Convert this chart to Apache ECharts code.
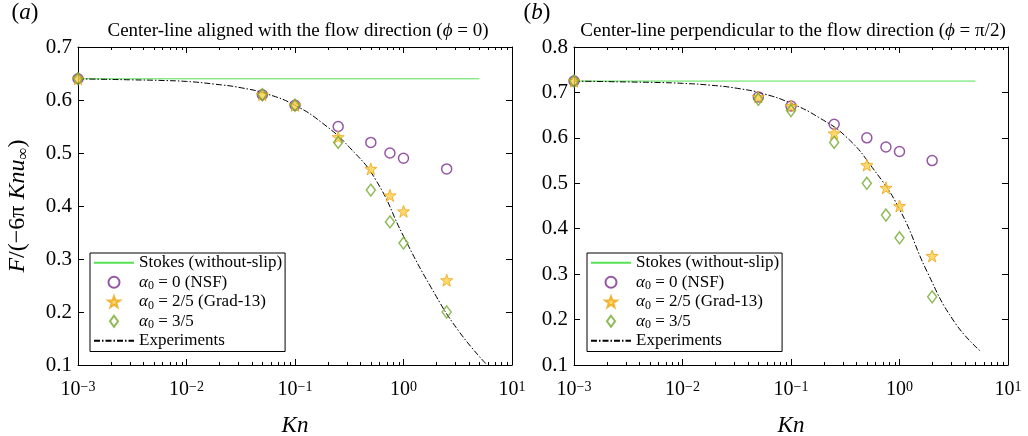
<!DOCTYPE html>
<html>
<head>
<meta charset="utf-8">
<script src="https://cdn.jsdelivr.net/npm/echarts@6/dist/echarts.min.js"></script>
<style>
html,body{margin:0;padding:0;background:#fff;}
#main{width:1028px;height:436px;}
</style>
</head>
<body>
<div id="main"></div>
<script>
// panel (a): phi = 0
var knLeft   = [0.001, 0.05, 0.1, 0.25, 0.5, 0.75, 1, 2.5];
var nsfLeft  = [0.64, 0.61, 0.59, 0.55, 0.52, 0.50, 0.49, 0.47];
var gradLeft = [0.64, 0.61, 0.59, 0.53, 0.47, 0.42, 0.39, 0.26];
var a35Left  = [0.64, 0.61, 0.59, 0.52, 0.43, 0.37, 0.33, 0.20];
var stokesLeft = [0.64, 0.64];
var expKnLeft = [0.001, 0.0018, 0.0032, 0.0056, 0.01, 0.018, 0.032, 0.056, 0.1, 0.18, 0.32, 0.56, 1, 1.8, 3.2, 5.9];
var expLeft   = [0.64, 0.639, 0.638, 0.637, 0.635, 0.63, 0.623, 0.611, 0.59, 0.556, 0.51, 0.448, 0.343, 0.246, 0.165, 0.1];

// panel (b): phi = pi/2
var knRight   = [0.001, 0.05, 0.1, 0.25, 0.5, 0.75, 1, 2];
var nsfRight  = [0.725, 0.69, 0.67, 0.63, 0.60, 0.58, 0.57, 0.55];
var gradRight = [0.725, 0.69, 0.67, 0.61, 0.54, 0.49, 0.45, 0.34];
var a35Right  = [0.725, 0.685, 0.66, 0.59, 0.50, 0.43, 0.38, 0.25];
var stokesRight = [0.725, 0.725];
var expKnRight = [0.001, 0.0018, 0.0032, 0.0056, 0.01, 0.018, 0.032, 0.056, 0.1, 0.18, 0.32, 0.56, 1, 1.8, 3.2, 5.6];
var expRight   = [0.725, 0.724, 0.723, 0.722, 0.72, 0.716, 0.709, 0.697, 0.676, 0.645, 0.603, 0.535, 0.443, 0.305, 0.195, 0.13];

var stokesKn = [0.001, 5];
var yRangeLeft = [0.1, 0.7];
var yRangeRight = [0.1, 0.8];
var minorKn = [0.002, 0.003, 0.004, 0.005, 0.006, 0.007, 0.008, 0.009,
               0.02, 0.03, 0.04, 0.05, 0.06, 0.07, 0.08, 0.09,
               0.2, 0.3, 0.4, 0.5, 0.6, 0.7, 0.8, 0.9,
               2, 3, 4, 5, 6, 7, 8, 9];

var names = ['Stokes (without-slip)', 'NSF', 'Grad13', 'a35', 'Experiments'];
var legendText = {
    'Stokes (without-slip)': '{t|Stokes (without-slip)}',
    'NSF': '{a|α}{s|0}{t| = 0 (NSF)}',
    'Grad13': '{a|α}{s|0}{t| = 2/5 (Grad-13)}',
    'a35': '{a|α}{s|0}{t| = 3/5}',
    'Experiments': '{t|Experiments}'
};

var serif = 'Liberation Serif';
var starPath = 'path://M0,-10L2.35,-3.24L9.51,-3.09L3.8,1.24L5.88,8.09L0,4L-5.88,8.09L-3.8,1.24L-9.51,-3.09L-2.35,-3.24Z';
var diamondPath = 'path://M0,-6L4.4,0L0,6L-4.4,0Z';

function pts(xs, ys) {
    return xs.map(function (x, i) { return [x, ys[i]]; });
}

function sci(v) {
    var e = Math.round(Math.log10(v));
    return '{b|10}{s|' + (e < 0 ? '\u2212' + (-e) : e) + '}';
}

var chart = echarts.init(document.getElementById('main'));

function xAxes(g) {
    var common = {
        type: 'log', logBase: 10, min: 0.001, max: 10, splitNumber: 4, gridIndex: g,
        axisLine: {show: true, onZero: false, lineStyle: {color: '#000', width: 1}},
        axisTick: {show: true, inside: true, length: 6, lineStyle: {color: '#000'}},
        splitLine: {show: false}
    };
    var bottom = echarts.util.merge({
        position: 'bottom',
        name: 'Kn', nameLocation: 'middle', nameGap: 49,
        nameTextStyle: {fontFamily: serif, fontSize: 23, fontStyle: 'italic', color: '#000'},
        axisLabel: {
            margin: 15, color: '#000', fontFamily: serif, formatter: sci,
            rich: {
                b: {fontFamily: serif, fontSize: 20, lineHeight: 20, padding: [3, 0, 0, 0], verticalAlign: 'bottom', color: '#000'},
                s: {fontFamily: serif, fontSize: 14, lineHeight: 14, verticalAlign: 'top', color: '#000'}
            }
        }
    }, common, true);
    var top = echarts.util.merge({position: 'top', axisLabel: {show: false}}, common, true);
    return [bottom, top];
}

function yAxes(g, r, withName) {
    var common = {
        type: 'value', min: r[0], max: r[1], interval: 0.1, gridIndex: g,
        axisLine: {show: true, onZero: false, lineStyle: {color: '#000', width: 1}},
        axisTick: {show: true, inside: true, length: 6, lineStyle: {color: '#000'}},
        splitLine: {show: false}
    };
    var left = echarts.util.merge({
        position: 'left',
        axisLabel: {
            margin: 6, color: '#000', fontFamily: serif, fontSize: 21,
            formatter: function (v) { return '{n|' + v.toFixed(1) + '}'; },
            rich: {n: {fontFamily: serif, fontSize: 21, color: '#000'}}
        }
    }, common, true);
    if (withName) {
        left.name = '{i|F}{r|/(\u22126\u03c0 }{i|Knu}{s|\u221e}{r|)}';
        left.nameLocation = 'middle';
        left.nameGap = 46;
        left.nameRotate = 90;
        left.nameTextStyle = {
            fontFamily: serif, fontSize: 24, color: '#000', lineHeight: 28,
            rich: {
                r: {fontFamily: serif, fontSize: 24, lineHeight: 28, color: '#000'},
                i: {fontFamily: serif, fontSize: 24, fontStyle: 'italic', lineHeight: 28, color: '#000'},
                s: {fontFamily: serif, fontSize: 17, lineHeight: 17, verticalAlign: 'bottom', color: '#000'}
            }
        };
    }
    var right = echarts.util.merge({position: 'right', axisLabel: {show: false}}, common, true);
    return [left, right];
}

function panelSeries(p, kn, nsf, grad, a35, stokes, expKn, exp, yr) {
    var xi = p * 2, yi = p * 2;
    return [
        {
            name: names[0], type: 'line', xAxisIndex: xi, yAxisIndex: yi,
            data: pts(stokesKn, stokes), symbol: 'none', silent: true,
            lineStyle: {color: '#55e055', width: 1}, itemStyle: {color: '#55e055', opacity: 0}, z: 2
        },
        {
            name: names[4], type: 'line', xAxisIndex: xi, yAxisIndex: yi,
            data: pts(expKn, exp), symbol: 'none', smooth: 0.5, silent: true,
            lineStyle: {color: '#000', width: 1, type: [6, 2, 1.5, 2]}, itemStyle: {color: '#000', opacity: 0}, z: 3
        },
        {
            name: names[1], type: 'scatter', xAxisIndex: xi, yAxisIndex: yi, clip: false,
            data: pts(kn, nsf), symbol: 'circle', symbolSize: 10,
            itemStyle: {color: 'rgba(255,255,255,0)', borderColor: '#7b2d8e', borderWidth: 1.5}, z: 4
        },
        {
            name: names[2], type: 'scatter', xAxisIndex: xi, yAxisIndex: yi, clip: false,
            data: pts(kn, grad), symbol: starPath, symbolSize: 12,
            itemStyle: {color: '#fbcf4a', borderColor: '#efa514', borderWidth: 1}, z: 5
        },
        {
            name: names[3], type: 'scatter', xAxisIndex: xi, yAxisIndex: yi, clip: false,
            data: pts(kn, a35), symbol: diamondPath, symbolSize: [9, 12],
            itemStyle: {color: 'rgba(255,255,255,0)', borderColor: '#72a92c', borderWidth: 1.5}, z: 6
        },
        {
            type: 'custom', xAxisIndex: xi, yAxisIndex: yi, silent: true, clip: false, z: 10,
            data: minorKn.map(function (v) { return [v, yr[0]]; }),
            renderItem: function (params, api) {
                var b = api.coord([api.value(0), yr[0]]);
                var t = api.coord([api.value(0), yr[1]]);
                var x = Math.round(b[0]) + 0.5;
                return {
                    type: 'group', children: [
                        {type: 'line', shape: {x1: x, y1: b[1], x2: x, y2: b[1] - 3}, style: {stroke: '#000', lineWidth: 1}},
                        {type: 'line', shape: {x1: x, y1: t[1], x2: x, y2: t[1] + 3}, style: {stroke: '#000', lineWidth: 1}}
                    ]
                };
            }
        }
    ];
}

function legendAt(x) {
    return {
        left: x, top: 253, orient: 'vertical', data: names,
        itemWidth: 40, itemHeight: 11, itemGap: 0, padding: [0, 3, 1, 3],
        symbolKeepAspect: true,
        backgroundColor: '#fff', borderColor: '#000', borderWidth: 1, borderRadius: 0,
        selectedMode: false,
        formatter: function (n) { return legendText[n]; },
        textStyle: {
            fontFamily: serif, fontSize: 17, color: '#000', lineHeight: 19.5,
            rich: {
                t: {fontFamily: serif, fontSize: 17, lineHeight: 19.5, color: '#000'},
                a: {fontFamily: serif, fontSize: 17, fontStyle: 'italic', lineHeight: 19.5, color: '#000'},
                s: {fontFamily: serif, fontSize: 12, lineHeight: 12, verticalAlign: 'bottom', color: '#000'}
            }
        }
    };
}

var titleRich = {
    i: {fontFamily: serif, fontSize: 19, fontStyle: 'italic', fill: '#000'}
};

var option = {
    backgroundColor: '#fff',
    animation: false,
    textStyle: {fontFamily: serif},
    grid: [
        {left: 78, right: 516, top: 47, bottom: 71, containLabel: false, outerBoundsMode: 'none'},
        {left: 574, right: 20, top: 47, bottom: 71, containLabel: false, outerBoundsMode: 'none'}
    ],
    xAxis: xAxes(0).concat(xAxes(1)),
    yAxis: yAxes(0, yRangeLeft, true).concat(yAxes(1, yRangeRight, false)),
    legend: [legendAt(90), legendAt(587)],
    graphic: [
        {type: 'text', x: 25, y: 13, style: {
            text: '({i|a})', fontFamily: serif, fontSize: 23, fill: '#000', align: 'center', verticalAlign: 'middle',
            rich: {i: {fontFamily: serif, fontSize: 23, fontStyle: 'italic', fill: '#000'}}
        }},
        {type: 'text', x: 537, y: 13, style: {
            text: '({i|b})', fontFamily: serif, fontSize: 23, fill: '#000', align: 'center', verticalAlign: 'middle',
            rich: {i: {fontFamily: serif, fontSize: 23, fontStyle: 'italic', fill: '#000'}}
        }},
        {type: 'text', x: 298, y: 31, style: {
            text: 'Center-line aligned with the flow direction ({i|\u03d5} = 0)',
            fontFamily: serif, fontSize: 19, fill: '#000', align: 'center', verticalAlign: 'middle', rich: titleRich
        }},
        {type: 'text', x: 793, y: 31, style: {
            text: 'Center-line perpendicular to the flow direction ({i|\u03d5} = \u03c0/2)',
            fontFamily: serif, fontSize: 19, fill: '#000', align: 'center', verticalAlign: 'middle', rich: titleRich
        }}
    ],
    series: panelSeries(0, knLeft, nsfLeft, gradLeft, a35Left, stokesLeft, expKnLeft, expLeft, yRangeLeft)
        .concat(panelSeries(1, knRight, nsfRight, gradRight, a35Right, stokesRight, expKnRight, expRight, yRangeRight))
};

chart.setOption(option);
</script>
</body>
</html>
